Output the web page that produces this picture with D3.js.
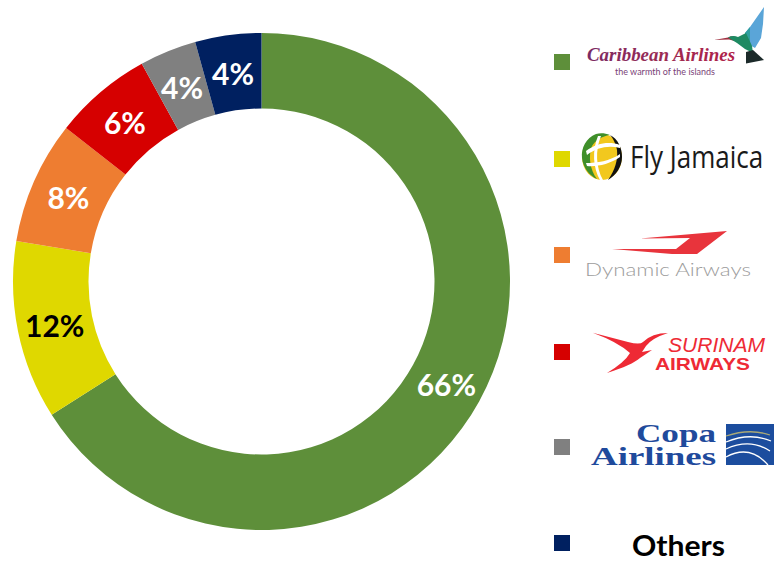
<!DOCTYPE html>
<html><head><meta charset="utf-8">
<script src="https://cdn.jsdelivr.net/npm/d3@7"></script>
<style>html,body{margin:0;background:#fff}svg{display:block}</style></head>
<body><svg id="c" width="774" height="562"></svg>
<script>
const categories=["Caribbean Airlines","Fly Jamaica","Dynamic Airways","Surinam Airways","Copa Airlines","Others"];
const shares=[66,11.6,8,6.4,3.7,4.3];
const percentLabels=["66%","12%","8%","6%","4%","4%"];
const colors=["#5e8f3a","#dfd800","#ee7d31","#d60000","#808080","#002060"];
const labelColors=["#fff","#000","#fff","#fff","#fff","#fff"];
const legendY=[62,159,255,352,447,543];

const svg=d3.select("#c");
const g=svg.append("g").attr("transform","translate(261.5,281.5)");
const pie=d3.pie().sort(null)(shares);
const arc=d3.arc().innerRadius(173).outerRadius(248.5);
const labelArc=d3.arc().innerRadius(211).outerRadius(211);
g.selectAll("path").data(pie).join("path").attr("d",arc).attr("fill",(d,i)=>colors[i]);
g.selectAll("text").data(pie).join("text")
 .attr("transform",d=>{const c=labelArc.centroid(d);return `translate(${c[0]},${c[1]+2.5})`;})
 .attr("text-anchor","middle").attr("dy","0.35em")
 .attr("font-family","Lato").attr("font-weight",700).attr("font-size",30)
 .attr("fill",(d,i)=>labelColors[i]).text((d,i)=>percentLabels[i]);

svg.selectAll("rect.k").data(categories).join("rect").attr("class","k")
 .attr("x",554).attr("y",(d,i)=>legendY[i]-8).attr("width",16).attr("height",16)
 .attr("fill",(d,i)=>colors[i]);

function txt(s,x,y,size,fill,font,opts={}){
  const t=svg.append("text").attr("x",x).attr("y",y).attr("font-size",size).attr("fill",fill)
    .attr("font-family",font).text(s);
  if(opts.weight)t.attr("font-weight",opts.weight);
  if(opts.style)t.attr("font-style",opts.style);
  if(opts.len)t.attr("textLength",opts.len).attr("lengthAdjust","spacingAndGlyphs");
  return t;
}
function poly(d,fill){svg.append("path").attr("d",d).attr("fill",fill);}

// Caribbean Airlines
const defs=svg.append("defs");
const gr=defs.append("linearGradient").attr("id","ca");
gr.append("stop").attr("offset","0").attr("stop-color","#7a2a63");
gr.append("stop").attr("offset","0.6").attr("stop-color","#a02a50");
gr.append("stop").attr("offset","1").attr("stop-color","#b02048");
txt("Caribbean Airlines",587,61,19,"url(#ca)","Liberation Serif",{weight:700,style:"italic",len:148});
txt("the warmth of the islands",615,75,9.5,"#7a3f78","Lato",{len:100});
poly("M714 40 L728 37.5 Q733 35 738 38 L746 44 L729 39.5 Z","#a03040");
poly("M745 33 L750 27 L764 7 L763 24 L761 38 L755 48 L748 44 Z","#5aa5d8");
poly("M745 33 L750 27 L750 42 L748 46 Z","#2f9f9f");
poly("M728 37.5 Q733 35 738 37 L746 33 L752 46 L753 53 L745 49 L737 43 Z","#1e8a62");
poly("M746 52 L753 50 L764 60 L746 63.5 Z","#1c2a2a");

// Fly Jamaica
svg.append("ellipse").attr("cx",602).attr("cy",157).attr("rx",20).attr("ry",23).attr("fill","#f2c81e");
poly("M596 134 C586 138 581 148 582 158 C583 168 590 176 597 179 C590 170 588 156 592 146 C595 141 602 136 610 135 C605 133 600 133 596 134 Z","#3f8f2a");
poly("M610 135 C618 139 622 148 622 157 C622 167 616 175 608 180 C615 170 618 160 617 150 C616 144 613 138 610 135 Z","#111");
poly("M586 151 C597 143 609 141 620 145 L620 148 C609 145 597 147 587 155 Z","#fff");
poly("M586 163 C597 163 610 161 620 154 L620 157 C610 164 597 167 587 166 Z","#fff");
poly("M598 136 C592 150 593 168 600 180 L603 180 C596 168 595 150 601 136 Z","#fff");
txt("Fly Jamaica",0,0,31,"#1a1a1a","Open Sans").attr("transform","translate(630,168) scale(0.84,1)");

// Dynamic Airways
poly("M727 231 L640 238.5 L690 238 L676 249 L612 249 L672 254 L697 254 Z","#e8343c");
txt("Dynamic Airways",585,276,17.5,"#9c9c9c","Lato",{len:166,weight:300});

// Surinam Airways
poly("M592.7 332.7 L628 342 Q640 345 643 342 Q652 333 668 333 Q652 338 646 346 L642 352 L652 350 L640 358 Q632 365 607 373 Q625 362 630 353 Q618 342 592.7 332.7 Z","#ee2a35");
txt("SURINAM",668,352,20.5,"#ee2a35","Liberation Sans",{style:"italic",len:97});
txt("AIRWAYS",655,370,17,"#ee2a35","Liberation Sans",{weight:700,len:95});

// Copa Airlines
txt("Copa",636,442,26,"#1f4a9c","Liberation Serif",{weight:700,len:80});
txt("Airlines",591,465,26,"#1f4a9c","Liberation Serif",{weight:700,len:125});
svg.append("rect").attr("x",726).attr("y",424).attr("width",48).attr("height",41).attr("fill","#1c4d9e");
["M726 436 Q750 428 770 435","M726 442 Q750 432 771 441","M726 449 Q750 438 770 451","M726 457 Q750 444 768 465"].forEach((d,i)=>
  svg.append("path").attr("d",d).attr("fill","none").attr("stroke",i==0?"#a8a878":"#fff").attr("stroke-width",1.3));

// Others
txt("Others",632,556,28.5,"#000","Lato",{weight:700,len:93});
</script></body></html>
